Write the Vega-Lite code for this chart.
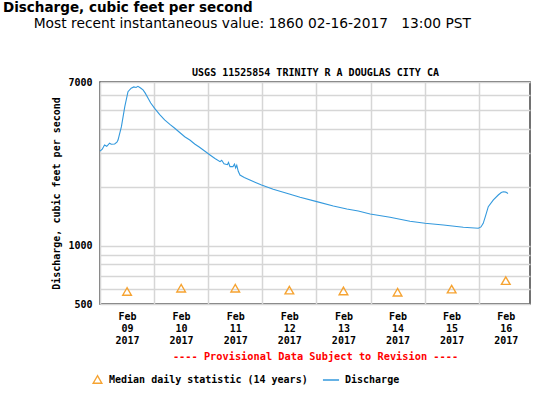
{
  "$schema": "https://vega.github.io/schema/vega-lite/v6.json",
  "width": 430,
  "height": 222,
  "autosize": {"type": "none"},
  "padding": {"left": 100, "top": 82, "right": 10, "bottom": 90},
  "background": "white",
  "title": {
    "text": "Discharge, cubic feet per second",
    "subtitle": "\u200b\u00a0\u00a0\u00a0\u00a0\u00a0\u00a0\u00a0Most recent instantaneous value: 1860 02-16-2017\u00a0\u00a0\u00a013:00 PST",
    "anchor": "start",
    "frame": "group",
    "dx": -97,
    "offset": 36,
    "font": "DejaVu Sans",
    "fontSize": 13.5,
    "fontWeight": "bold",
    "color": "black",
    "subtitleFont": "DejaVu Sans",
    "subtitleFontSize": 13.8,
    "subtitleColor": "black",
    "subtitlePadding": 3
  },
  "config": {
    "view": {"stroke": "#444", "strokeWidth": 1.5},
    "axis": {
      "labelFont": "DejaVu Sans Mono",
      "labelFontWeight": "bold",
      "labelFontSize": 10,
      "labelColor": "black",
      "titleFont": "DejaVu Sans Mono",
      "titleFontWeight": "bold",
      "titleFontSize": 10,
      "titleColor": "black",
      "gridColor": "#d6d6d6",
      "gridWidth": 1.5,
      "gridOpacity": 1
    },
    "legend": {
      "labelFont": "DejaVu Sans Mono",
      "labelFontWeight": "bold",
      "labelFontSize": 10,
      "labelColor": "black",
      "labelLimit": 400
    }
  },
  "datasets": {
    "flow": [
      {"t": "2017-02-09T00:00:00Z", "q": 3080},
      {"t": "2017-02-09T01:00:00Z", "q": 3150},
      {"t": "2017-02-09T02:00:00Z", "q": 3310},
      {"t": "2017-02-09T03:00:00Z", "q": 3260},
      {"t": "2017-02-09T04:15:00Z", "q": 3380},
      {"t": "2017-02-09T05:00:00Z", "q": 3340},
      {"t": "2017-02-09T06:30:00Z", "q": 3350},
      {"t": "2017-02-09T07:30:00Z", "q": 3420},
      {"t": "2017-02-09T08:00:00Z", "q": 3510},
      {"t": "2017-02-09T09:30:00Z", "q": 4115},
      {"t": "2017-02-09T11:00:00Z", "q": 5220},
      {"t": "2017-02-09T12:25:00Z", "q": 6240},
      {"t": "2017-02-09T13:50:00Z", "q": 6500},
      {"t": "2017-02-09T15:00:00Z", "q": 6600},
      {"t": "2017-02-09T16:00:00Z", "q": 6560},
      {"t": "2017-02-09T16:50:00Z", "q": 6650},
      {"t": "2017-02-09T18:00:00Z", "q": 6520},
      {"t": "2017-02-09T19:05:00Z", "q": 6370},
      {"t": "2017-02-09T20:00:00Z", "q": 6150},
      {"t": "2017-02-09T21:20:00Z", "q": 5770},
      {"t": "2017-02-09T22:30:00Z", "q": 5450},
      {"t": "2017-02-10T00:15:00Z", "q": 5120},
      {"t": "2017-02-10T02:30:00Z", "q": 4750},
      {"t": "2017-02-10T04:40:00Z", "q": 4460},
      {"t": "2017-02-10T07:00:00Z", "q": 4230},
      {"t": "2017-02-10T09:10:00Z", "q": 4040},
      {"t": "2017-02-10T11:30:00Z", "q": 3830},
      {"t": "2017-02-10T13:35:00Z", "q": 3650},
      {"t": "2017-02-10T16:00:00Z", "q": 3500},
      {"t": "2017-02-10T18:00:00Z", "q": 3350},
      {"t": "2017-02-10T20:00:00Z", "q": 3230},
      {"t": "2017-02-10T22:25:00Z", "q": 3080},
      {"t": "2017-02-11T00:48:00Z", "q": 2940},
      {"t": "2017-02-11T03:00:00Z", "q": 2820},
      {"t": "2017-02-11T05:15:00Z", "q": 2715},
      {"t": "2017-02-11T06:00:00Z", "q": 2760},
      {"t": "2017-02-11T07:00:00Z", "q": 2650},
      {"t": "2017-02-11T08:30:00Z", "q": 2620},
      {"t": "2017-02-11T09:00:00Z", "q": 2690},
      {"t": "2017-02-11T09:40:00Z", "q": 2560},
      {"t": "2017-02-11T11:00:00Z", "q": 2560},
      {"t": "2017-02-11T11:40:00Z", "q": 2640},
      {"t": "2017-02-11T12:10:00Z", "q": 2520},
      {"t": "2017-02-11T12:40:00Z", "q": 2600},
      {"t": "2017-02-11T13:20:00Z", "q": 2420},
      {"t": "2017-02-11T14:05:00Z", "q": 2317},
      {"t": "2017-02-11T16:00:00Z", "q": 2250},
      {"t": "2017-02-11T18:30:00Z", "q": 2183},
      {"t": "2017-02-11T21:00:00Z", "q": 2120},
      {"t": "2017-02-11T23:40:00Z", "q": 2058},
      {"t": "2017-02-12T04:50:00Z", "q": 1955},
      {"t": "2017-02-12T10:50:00Z", "q": 1864},
      {"t": "2017-02-12T16:45:00Z", "q": 1778},
      {"t": "2017-02-13T00:10:00Z", "q": 1688},
      {"t": "2017-02-13T07:30:00Z", "q": 1603},
      {"t": "2017-02-13T13:30:00Z", "q": 1547},
      {"t": "2017-02-13T18:35:00Z", "q": 1510},
      {"t": "2017-02-13T23:50:00Z", "q": 1457},
      {"t": "2017-02-14T08:40:00Z", "q": 1402},
      {"t": "2017-02-14T17:30:00Z", "q": 1337},
      {"t": "2017-02-15T00:10:00Z", "q": 1305},
      {"t": "2017-02-15T08:20:00Z", "q": 1279},
      {"t": "2017-02-15T17:10:00Z", "q": 1244},
      {"t": "2017-02-15T23:50:00Z", "q": 1230},
      {"t": "2017-02-16T01:00:00Z", "q": 1250},
      {"t": "2017-02-16T02:00:00Z", "q": 1305},
      {"t": "2017-02-16T03:00:00Z", "q": 1420},
      {"t": "2017-02-16T04:15:00Z", "q": 1590},
      {"t": "2017-02-16T06:30:00Z", "q": 1722},
      {"t": "2017-02-16T08:40:00Z", "q": 1827},
      {"t": "2017-02-16T10:00:00Z", "q": 1880},
      {"t": "2017-02-16T10:55:00Z", "q": 1900},
      {"t": "2017-02-16T12:00:00Z", "q": 1890},
      {"t": "2017-02-16T13:00:00Z", "q": 1860}
    ],
    "median": [
      {"t": "2017-02-09T12:00:00Z", "q": 580},
      {"t": "2017-02-10T12:00:00Z", "q": 603},
      {"t": "2017-02-11T12:00:00Z", "q": 603},
      {"t": "2017-02-12T12:00:00Z", "q": 590},
      {"t": "2017-02-13T12:00:00Z", "q": 584},
      {"t": "2017-02-14T12:00:00Z", "q": 575},
      {"t": "2017-02-15T12:00:00Z", "q": 597},
      {"t": "2017-02-16T12:00:00Z", "q": 660}
    ]
  },
  "encoding": {
    "y": {
      "field": "q",
      "type": "quantitative",
      "scale": {"type": "log", "domain": [500, 7000], "nice": false, "zero": false},
      "axis": {
        "title": "Discharge, cubic feet per second",
        "values": [500, 600, 700, 800, 900, 1000, 2000, 3000, 4000, 5000, 6000, 7000],
        "labelExpr": "(datum.value == 500 || datum.value == 1000 || datum.value == 7000) ? format(datum.value, 'd') : ''",
        "ticks": false,
        "domain": false,
        "grid": true,
        "labelPadding": 8,
        "titlePadding": 6,
        "labelOverlap": false
      }
    }
  },
  "layer": [
    {
      "data": {"name": "flow"},
      "mark": {"type": "line", "strokeWidth": 1.1, "interpolate": "linear"},
      "encoding": {
        "x": {
          "field": "t",
          "type": "temporal",
          "scale": {"type": "utc", "domain": ["2017-02-09T00:00:00Z", "2017-02-16T22:45:00Z"], "nice": false},
          "axis": {
            "orient": "bottom",
            "values": [
              {"year": 2017, "month": 2, "date": 9, "utc": true},
              {"year": 2017, "month": 2, "date": 10, "utc": true},
              {"year": 2017, "month": 2, "date": 11, "utc": true},
              {"year": 2017, "month": 2, "date": 12, "utc": true},
              {"year": 2017, "month": 2, "date": 13, "utc": true},
              {"year": 2017, "month": 2, "date": 14, "utc": true},
              {"year": 2017, "month": 2, "date": 15, "utc": true},
              {"year": 2017, "month": 2, "date": 16, "utc": true}
            ],
            "labelExpr": "[utcFormat(datum.value, '%b'), utcFormat(datum.value, '%d'), utcFormat(datum.value, '%Y')]",
            "labelOffset": 27,
            "labelBaseline": "top",
            "labelLineHeight": 12,
            "labelPadding": 7,
            "labelOverlap": false,
            "labelFlush": false,
            "labelBound": false,
            "ticks": false,
            "domain": false,
            "grid": true,
            "title": "---- Provisional Data Subject to Revision ----",
            "titleColor": "#ff0000",
            "titleFontSize": 10.3,
            "titlePadding": 6
          }
        },
        "stroke": {
          "datum": "Discharge",
          "type": "nominal",
          "scale": {"range": ["#3399dd"]},
          "legend": {
            "title": null,
            "orient": "none",
            "legendX": 222,
            "legendY": 289,
            "symbolType": "stroke",
            "symbolSize": 260,
            "symbolStrokeWidth": 1.5,
            "labelOffset": 5,
            "padding": 0
          }
        }
      }
    },
    {
      "data": {"name": "median"},
      "mark": {"type": "point", "filled": false, "color": "#f6a331", "strokeWidth": 1.4, "size": 75, "opacity": 1},
      "encoding": {
        "x": {
          "field": "t",
          "type": "temporal",
          "axis": {
            "orient": "top",
            "labels": false,
            "ticks": false,
            "domain": false,
            "grid": false,
            "title": "USGS 11525854 TRINITY R A DOUGLAS CITY CA",
            "titlePadding": 5
          }
        },
        "shape": {
          "datum": "Median daily statistic (14 years)",
          "type": "nominal",
          "scale": {"range": ["triangle-up"]},
          "legend": {
            "title": null,
            "orient": "none",
            "legendX": -8,
            "legendY": 292,
            "symbolStrokeColor": "#f6a331",
            "symbolFillColor": "transparent",
            "symbolStrokeWidth": 1.4,
            "symbolSize": 75,
            "labelOffset": 6,
            "padding": 0
          }
        }
      }
    }
  ],
  "resolve": {"scale": {"x": "shared"}, "axis": {"x": "independent"}}
}
